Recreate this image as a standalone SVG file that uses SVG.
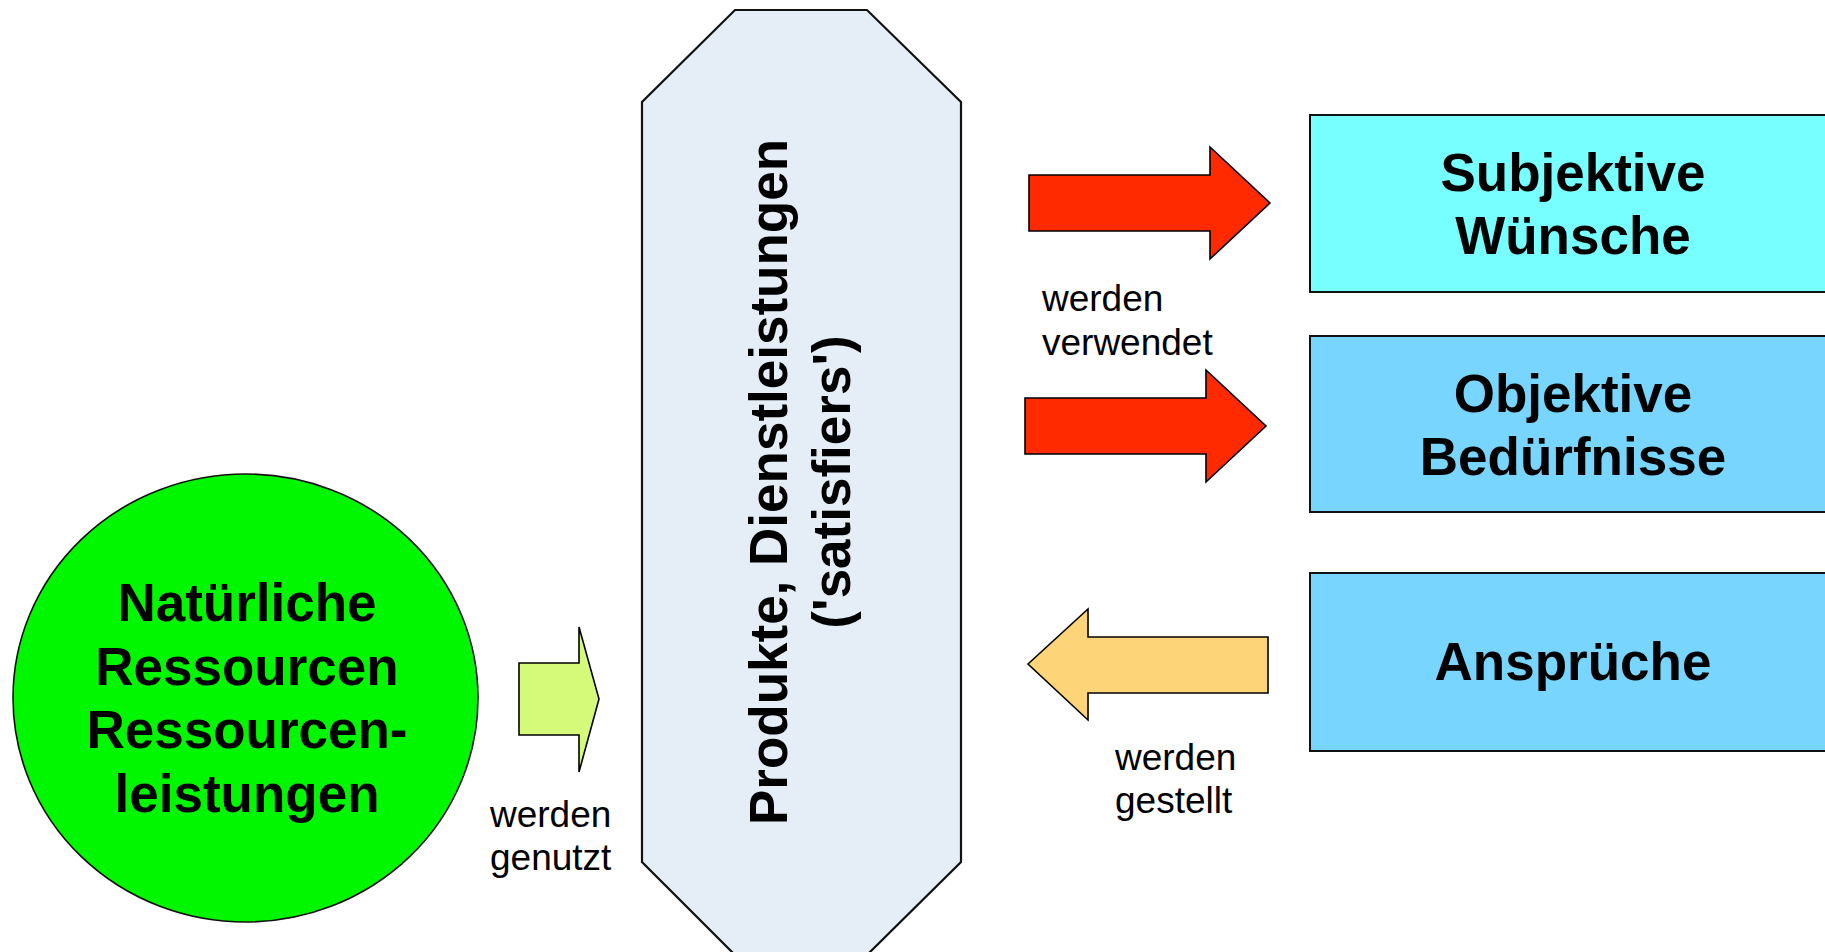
<svg xmlns="http://www.w3.org/2000/svg" width="1825" height="952" viewBox="0 0 1825 952">
<style>
.b{font-family:"Liberation Sans",Arial,sans-serif;font-weight:bold;font-size:53px;fill:#000;text-anchor:middle}
.l{font-family:"Liberation Sans",Arial,sans-serif;font-size:37px;fill:#000}
.box{stroke:#111;stroke-width:2}
.arr{stroke:#000;stroke-width:1.6;stroke-linejoin:miter}
</style>
<rect width="1825" height="952" fill="#fff"/>
<g id="produkte">
<polygon points="735,10 867,10 961,102 961,862 867,955 735,955 642,862 642,102" fill="#E5EEF7" stroke="#111" stroke-width="2.2"/>
<g transform="translate(787,482) rotate(-90)">
<text class="b" x="0" y="0">Produkte, Dienstleistungen</text>
<text class="b" x="0" y="63">('satisfiers')</text>
</g>
</g>
<g id="ressourcen">
<ellipse cx="245.5" cy="698" rx="232.5" ry="224" fill="#00F700" stroke="#111" stroke-width="1.6"/>
<text class="b" x="247" y="621">Natürliche</text>
<text class="b" x="247" y="684.5">Ressourcen</text>
<text class="b" x="247" y="748">Ressourcen-</text>
<text class="b" x="247" y="811.5">leistungen</text>
</g>
<g id="subjektive">
<rect class="box" x="1310" y="115" width="540" height="177" fill="#77FFFF"/>
<text class="b" x="1573" y="191">Subjektive</text>
<text class="b" x="1573" y="254">Wünsche</text>
</g>
<g id="objektive">
<rect class="box" x="1310" y="336" width="540" height="176" fill="#77D5FE"/>
<text class="b" x="1573" y="412">Objektive</text>
<text class="b" x="1573" y="475">Bedürfnisse</text>
</g>
<g id="ansprueche">
<rect class="box" x="1310" y="573" width="540" height="178" fill="#77D5FE"/>
<text class="b" x="1573" y="680">Ansprüche</text>
</g>
<g id="connectors">
<polygon class="arr" points="519,663 579,663 579,627 599,699 579,772 579,735 519,735" fill="#D5FA7A"/>
<polygon class="arr" points="1029,175 1210,175 1210,147 1270,203 1210,259 1210,231 1029,231" fill="#FF2A00"/>
<polygon class="arr" points="1025,398 1206,398 1206,370 1266,426 1206,482 1206,454 1025,454" fill="#FF2A00"/>
<polygon class="arr" points="1028,664 1088,609 1088,637 1268,637 1268,693 1088,693 1088,720" fill="#FED479"/>
<text class="l" x="490" y="827">werden</text>
<text class="l" x="490" y="870">genutzt</text>
<text class="l" x="1042" y="311">werden</text>
<text class="l" x="1042" y="355">verwendet</text>
<text class="l" x="1115" y="770">werden</text>
<text class="l" x="1115" y="813">gestellt</text>
</g>
</svg>
